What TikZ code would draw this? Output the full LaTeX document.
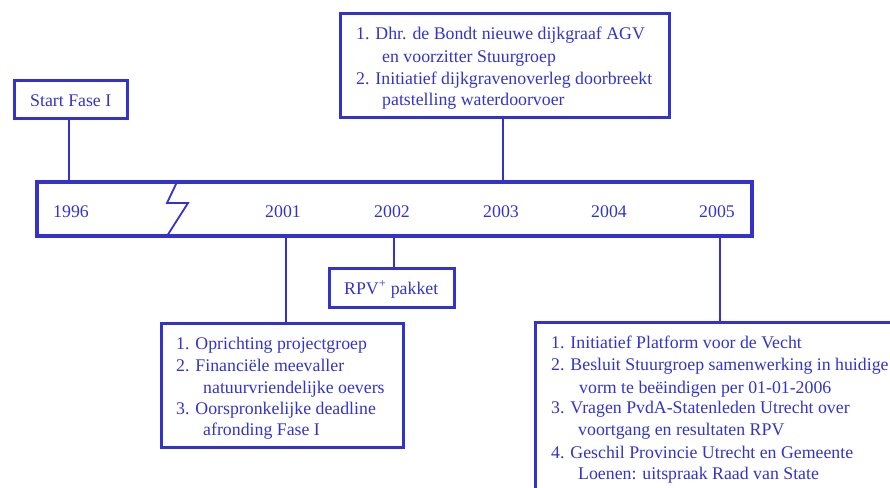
\documentclass[tikz,border=0pt]{standalone}
\usepackage{fontspec}
\setmainfont{Liberation Serif}
\definecolor{tlblue}{RGB}{51,51,204}
\begin{document}
\begin{tikzpicture}[x=1pt,y=-1pt,
  txt/.style={inner sep=0pt,anchor=base west,text=tlblue,font=\fontsize{17.8}{21}\selectfont},
  yr/.style={inner sep=0pt,anchor=base,text=tlblue,font=\fontsize{17.8}{21}\selectfont},
  boxline/.style={draw=tlblue,line width=3pt},
  conn/.style={draw=tlblue,line width=1.8pt}]
\useasboundingbox (0,0) rectangle (890,487);
\clip (0,0) rectangle (890,487);
% timeline
\draw[draw=tlblue,line width=4pt] (37,182) rectangle (752,236);
\coordinate (tltop) at (0,182);
\coordinate (tlbot) at (0,236);
\draw[conn] (177,182) -- (167,203) -- (188,203) -- (167,236);
\node[yr] (y1996) at (71,217) {1996};
\node[yr] (y2001) at (283,217) {2001};
\node[yr] (y2002) at (392,217) {2002};
\node[yr] (y2003) at (501,217) {2003};
\node[yr] (y2004) at (609,217) {2004};
\node[yr] (y2005) at (717,217) {2005};
% boxes
\draw[boxline] (14,80) rectangle (127,118);
\coordinate (sf) at (69,118);
\draw[boxline] (340,14) rectangle (669,117);
\coordinate (b3) at (503,117);
\draw[boxline] (329,268) rectangle (454,307);
\coordinate (rpv) at (394,268);
\draw[boxline] (161,323) rectangle (403,447);
\coordinate (b1) at (286,323);
\draw[boxline] (535,322) rectangle (910,510);
\coordinate (b5) at (720,322);
% connectors
\draw[conn] (sf) -- (sf |- tltop);
\draw[conn] (b3) -- (b3 |- tltop);
\draw[conn] (rpv) -- (rpv |- tlbot);
\draw[conn] (b1) -- (b1 |- tlbot);
\draw[conn] (b5) -- (b5 |- tlbot);
% texts
\node[txt] (t0) at (30,106) {Start Fase I};
\node[txt] (t31) at (356,40) {1. Dhr. de Bondt nieuwe dijkgraaf AGV};
\node[txt] (t32) at (382,63) {en voorzitter Stuurgroep};
\node[txt] (t33) at (356,84) {2. Initiatief dijkgravenoverleg doorbreekt};
\node[txt] (t34) at (382,105) {patstelling waterdoorvoer};
\node[txt] (trpv) at (344,294) {RPV\textsuperscript{+} pakket};
\node[txt] (t11) at (176,349) {1. Oprichting projectgroep};
\node[txt] (t12) at (176,371) {2. Financiële meevaller};
\node[txt] (t13) at (203,393) {natuurvriendelijke oevers};
\node[txt] (t14) at (176,414) {3. Oorspronkelijke deadline};
\node[txt] (t15) at (203,435) {afronding Fase I};
\node[txt] (t51) at (551,348) {1. Initiatief Platform voor de Vecht};
\node[txt] (t52) at (551,370) {2. Besluit Stuurgroep samenwerking in huidige};
\node[txt] (t53) at (579,393) {vorm te beëindigen per 01-01-2006};
\node[txt] (t54) at (551,413) {3. Vragen PvdA-Statenleden Utrecht over};
\node[txt] (t55) at (578,435) {voortgang en resultaten RPV};
\node[txt] (t56) at (551,458) {4. Geschil Provincie Utrecht en Gemeente};
\node[txt] (t57) at (578,479) {Loenen: uitspraak Raad van State};
\end{tikzpicture}
\end{document}
